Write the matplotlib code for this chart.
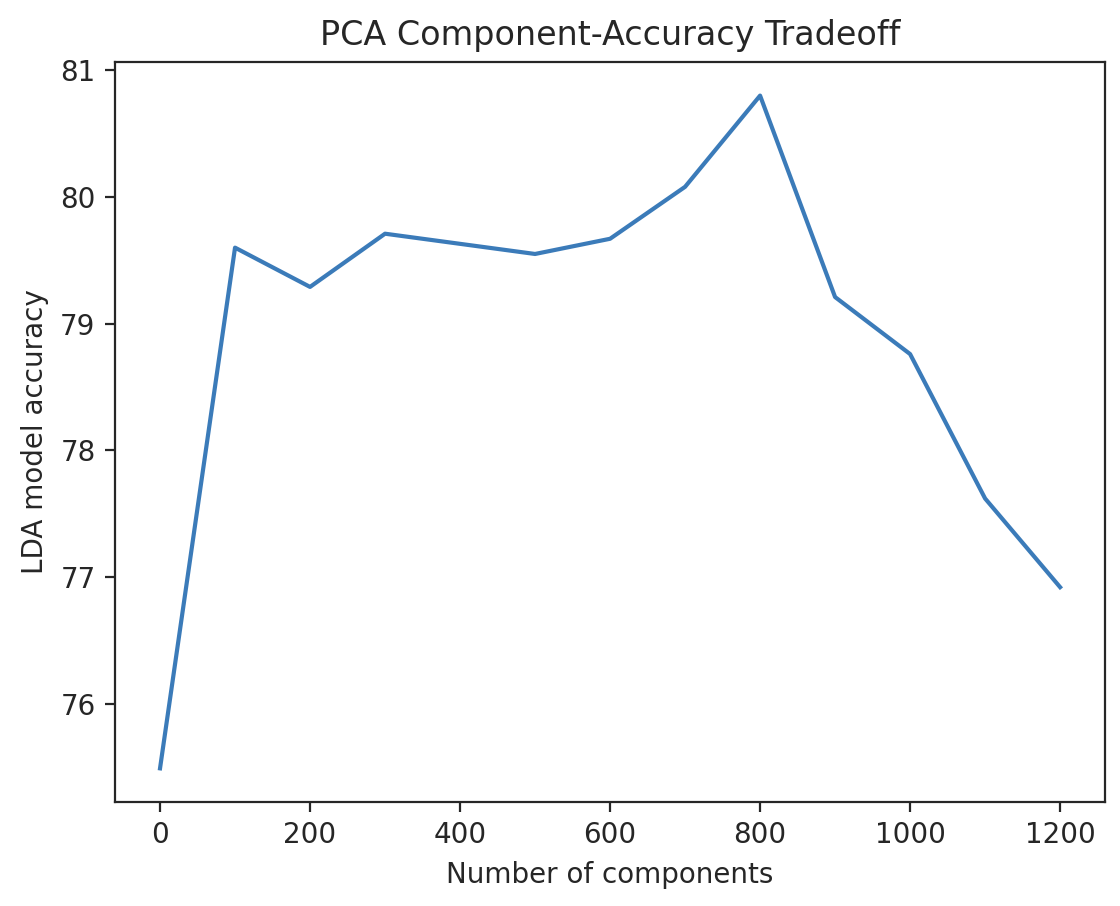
import matplotlib
matplotlib.use("Agg")
import matplotlib.pyplot as plt

# data
n_components = [0, 100, 200, 300, 500, 600, 700, 800, 900, 1000, 1100, 1200]
accuracy = [75.49, 79.60, 79.29, 79.71, 79.55, 79.67, 80.08, 80.80, 79.21, 78.76, 77.62, 76.92]

ink = "#262626"
plt.rcParams.update({
    "text.color": ink,
    "axes.labelcolor": ink,
    "axes.edgecolor": ink,
    "xtick.color": ink,
    "ytick.color": ink,
})

fig = plt.figure(figsize=(5.6, 4.53), dpi=200)
ax = fig.add_axes([0.1027, 0.1148, 0.884, 0.8168])
ax.plot(n_components, accuracy, color="#3b7bb9")
ax.set_title("PCA Component-Accuracy Tradeoff")
ax.set_xlabel("Number of components")
ax.set_ylabel("LDA model accuracy")
ax.set_yticks([76, 77, 78, 79, 80, 81])

fig.savefig("out.png", dpi=200)
